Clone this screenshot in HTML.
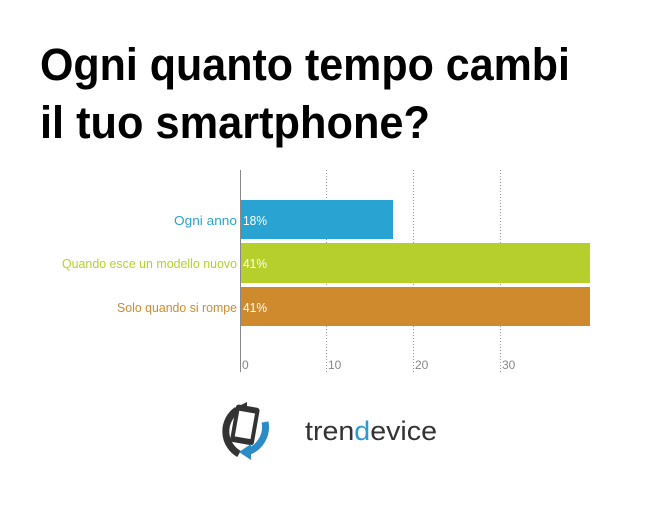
<!DOCTYPE html>
<html><head><meta charset="utf-8"><style>html,body{margin:0;padding:0;background:#fff}</style></head>
<body>
<svg width="650" height="514" viewBox="0 0 650 514" xmlns="http://www.w3.org/2000/svg" font-family="Liberation Sans, sans-serif">
<rect width="650" height="514" fill="#fff"/>
<text x="40" y="80" font-size="45" font-weight="bold" fill="#000" textLength="530" lengthAdjust="spacingAndGlyphs">Ogni quanto tempo cambi</text>
<text x="40" y="138" font-size="45" font-weight="bold" fill="#000" textLength="390" lengthAdjust="spacingAndGlyphs">il tuo smartphone?</text>
<g stroke="#999" stroke-dasharray="1,2" stroke-width="1">
<line x1="326.5" y1="170" x2="326.5" y2="372"/>
<line x1="413.5" y1="170" x2="413.5" y2="372"/>
<line x1="500.5" y1="170" x2="500.5" y2="372"/>
</g>
<rect x="240" y="200" width="153" height="39" fill="#29a4d2"/>
<rect x="240" y="243" width="350" height="40" fill="#b7cf2c"/>
<rect x="240" y="287" width="350" height="39" fill="#cf8a2d"/>
<line x1="240.5" y1="170" x2="240.5" y2="372" stroke="#888" stroke-width="1"/>
<g font-size="13" fill="#fff">
<text x="243" y="225" textLength="24" lengthAdjust="spacingAndGlyphs">18%</text><text x="243" y="268" textLength="24" lengthAdjust="spacingAndGlyphs">41%</text><text x="243" y="312" textLength="24" lengthAdjust="spacingAndGlyphs">41%</text>
</g>
<g font-size="13" text-anchor="end">
<text x="237" y="225" fill="#29a4d2" textLength="63" lengthAdjust="spacingAndGlyphs">Ogni anno</text>
<text x="237" y="268" fill="#b7cf2c" textLength="175" lengthAdjust="spacingAndGlyphs">Quando esce un modello nuovo</text>
<text x="237" y="312" fill="#cf8a2d" textLength="120" lengthAdjust="spacingAndGlyphs">Solo quando si rompe</text>
</g>
<g font-size="12" fill="#888">
<text x="242" y="369">0</text><text x="328" y="369">10</text><text x="415" y="369">20</text><text x="502" y="369">30</text>
</g>
<g transform="translate(245,430)">
<path d="M-8,-20 A26,26 0 0 0 -6,24" fill="none" stroke="#333" stroke-width="7"/>
<path d="M-10,-22 L2,-28 L2,-16 Z" fill="#333"/>
<rect x="-13" y="-24" width="24" height="38" rx="3" fill="#333" transform="rotate(10)"/>
<rect x="-9" y="-18" width="16" height="26" fill="#fff" transform="rotate(10)"/>
<path d="M20,-8 A26,26 0 0 1 2,22" fill="none" stroke="#2b8bc6" stroke-width="7"/>
<path d="M-6,22 L6,14 L6,30 Z" fill="#2b8bc6"/>
</g>
<text x="305" y="440" font-size="27" fill="#333" textLength="132" lengthAdjust="spacingAndGlyphs">tren<tspan fill="#2b9bd6">d</tspan>evice</text>
</svg>
</body></html>
